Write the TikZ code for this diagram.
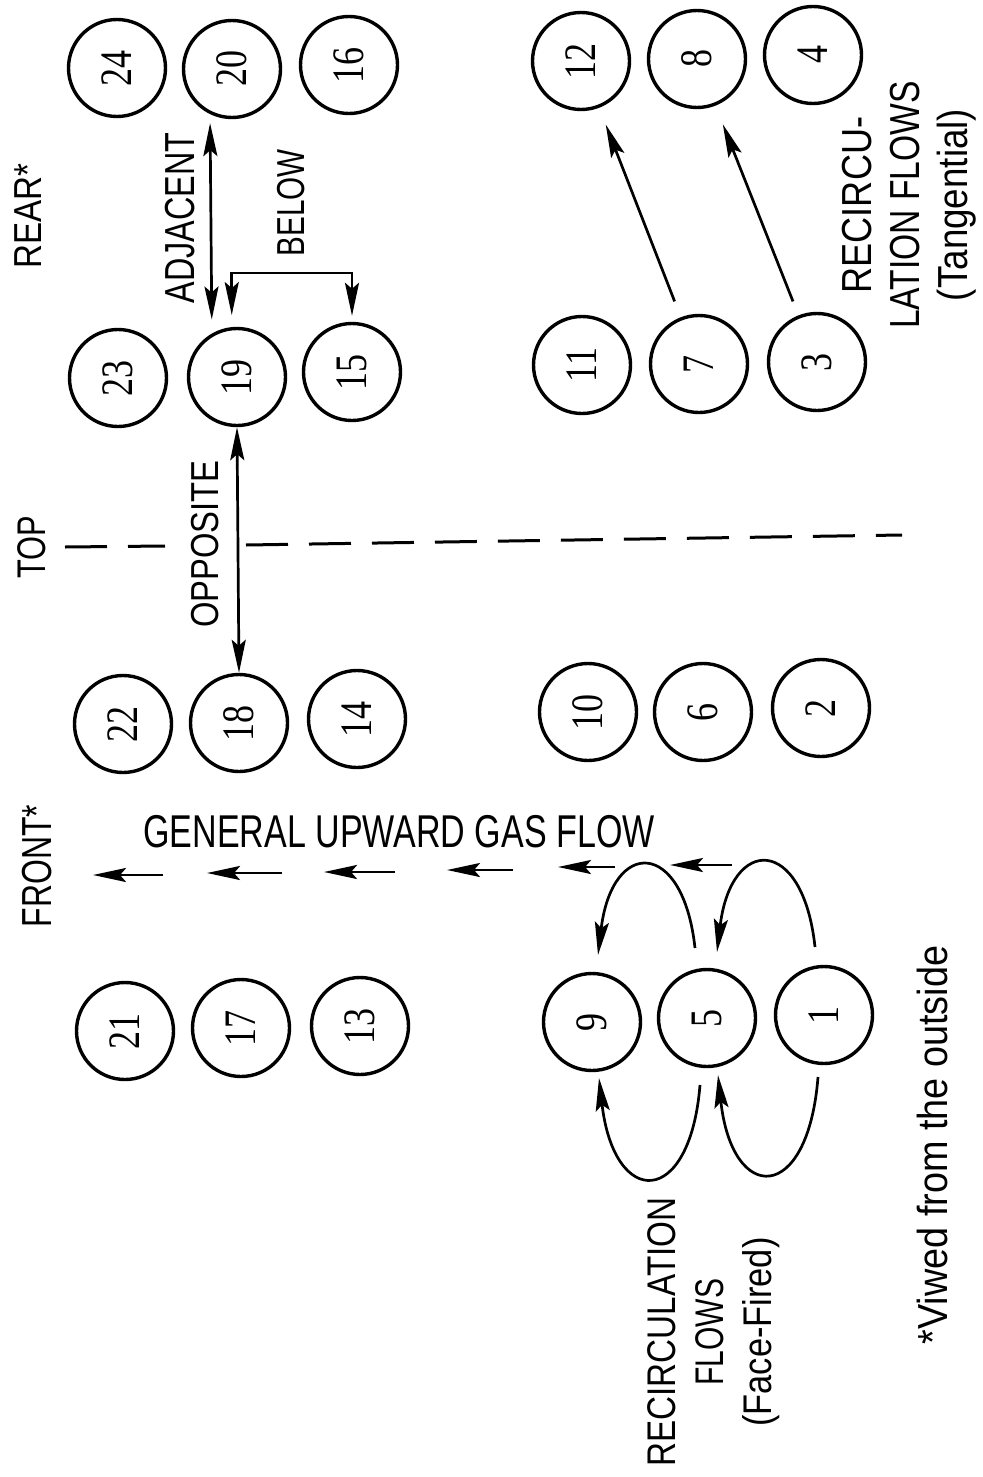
\documentclass[tikz,border=0pt]{standalone}
\usepackage{fontspec}
\usepackage{graphicx}
\setmainfont{Liberation Sans}
\newfontfamily\numfont{Liberation Serif}
\usetikzlibrary{arrows.meta}
\newcommand{\sx}[2]{\scalebox{#1}[1]{#2}}
\newcommand{\bn}[1]{\rotatebox{90}{\scalebox{0.8}[1]{#1}}}
\begin{document}
\begin{tikzpicture}[x=0.5pt,y=-0.5pt,
  burner/.style={circle,draw,line width=1.7pt,minimum size=48.5pt,inner sep=0pt,
    font=\numfont\fontsize{22.5}{22.5}\selectfont},
  lab/.style={inner sep=0pt,rotate=90,align=center},
  tip/.tip={Stealth[length=16.5pt,width=7pt,inset=3pt]},
  conn/.style={line width=1.35pt,-tip},
  dconn/.style={line width=1.35pt,tip-tip},
  topline/.style={line width=1.5pt,dash pattern=on 21pt off 10.5pt},
]
\useasboundingbox (0,0) rectangle (983,1477);

% burners
\node[burner] (n24) at (117,68) {\bn{24}};
\node[burner] (n20) at (232,69) {\bn{20}};
\node[burner] (n16) at (349,65) {\bn{16}};
\node[burner] (n12) at (581,61) {\bn{12}};
\node[burner] (n8)  at (697,59) {\bn{8}};
\node[burner] (n4)  at (813,55) {\bn{4}};

\node[burner] (n23) at (118,378) {\bn{23}};
\node[burner] (n19) at (237,377) {\bn{19}};
\node[burner] (n15) at (352,372) {\bn{15}};
\node[burner] (n11) at (582,365) {\bn{11}};
\node[burner] (n7)  at (699,364) {\bn{7}};
\node[burner] (n3)  at (817,362) {\bn{3}};

\node[burner] (n22) at (123,724) {\bn{22}};
\node[burner] (n18) at (239,723) {\bn{18}};
\node[burner] (n14) at (357,719) {\bn{14}};
\node[burner] (n10) at (588,712) {\bn{10}};
\node[burner] (n6)  at (703,712) {\bn{6}};
\node[burner] (n2)  at (821,708) {\bn{2}};

\node[burner] (n21) at (125,1031) {\bn{21}};
\node[burner] (n17) at (241,1028) {\bn{17}};
\node[burner] (n13) at (360,1026) {\bn{13}};
\node[burner] (n9)  at (592,1022) {\bn{9}};
\node[burner] (n5)  at (707,1018) {\bn{5}};
\node[burner] (n1)  at (824,1015) {\bn{1}};

% TOP dashed line (interrupted by the OPPOSITE label and arrow)
\coordinate (tl) at (65,547);
\coordinate (tm1) at (165,546);
\coordinate (tm2) at (246,545);
\coordinate (tr) at (902,535);
\draw[topline] (tl) -- (tm1);
\draw[topline] (tm2) -- (tr);

% labels
\node[lab,font=\fontsize{19.5}{19.5}\selectfont] (rear) at (28,216) {\sx{0.85}{REAR*}};
\node[lab,font=\fontsize{20}{20}\selectfont] (top) at (32,547) {\sx{0.77}{TOP}};
\node[lab,font=\fontsize{21}{21}\selectfont] (front) at (37,866) {\sx{0.76}{FRONT*}};
\node[lab,font=\fontsize{21}{21}\selectfont] (adj) at (180,218) {\sx{0.77}{ADJACENT}};
\node[lab,font=\fontsize{19.5}{19.5}\selectfont] (below) at (291,203) {\sx{0.76}{BELOW}};
\node[lab,font=\fontsize{19.5}{19.5}\selectfont] (opp) at (205,544) {\sx{0.84}{OPPOSITE}};
\node[inner sep=0pt,font=\fontsize{23}{23}\selectfont] (gen) at (399,832) {\sx{0.74}{GENERAL UPWARD GAS FLOW}};
\node[lab,font=\fontsize{21}{24}\selectfont] (tang) at (909,205)
  {\sx{0.86}{RECIRCU-}\\\sx{0.80}{LATION FLOWS}\\\sx{0.875}{(Tangential)}};
\node[lab,font=\fontsize{20}{24}\selectfont] (face) at (714,1332)
  {\sx{0.83}{RECIRCULATION}\\\sx{0.75}{FLOWS}\\\sx{0.86}{(Face-Fired)}};
\node[lab,font=\fontsize{21}{21}\selectfont] (note) at (932,1145) {\sx{0.9}{*Viwed from the outside}};

% relation arrows
\draw[dconn,shorten <=4.5pt,shorten >=7pt] (n20.244) -- (n19.120);
\draw[dconn] (n19.south) -- (n18.north);
\coordinate (bel) at (291,273);
\draw[dconn,shorten <=6pt,shorten >=3pt] (n19.96) |- (bel) -| (n15.north);

% tangential recirculation
\draw[conn,shorten <=8.5pt,shorten >=9pt] (n7) -- (n12);
\draw[conn,shorten <=7.5pt,shorten >=10pt] (n3) -- (n8);

% general upward gas flow arrows
\coordinate (g1s) at (163,875); \coordinate (g1e) at (93,875);
\coordinate (g2s) at (282,873); \coordinate (g2e) at (207,873);
\coordinate (g3s) at (395,872); \coordinate (g3e) at (324,872);
\coordinate (g4s) at (513,870); \coordinate (g4e) at (447,870);
\coordinate (g5s) at (615,867); \coordinate (g5e) at (558,867);
\coordinate (g6s) at (732,865); \coordinate (g6e) at (670,865);
\foreach \i in {1,...,6} \draw[conn] (g\i s) -- (g\i e);

% face-fired recirculation
\coordinate (a5s) at (695,948); \coordinate (a9e) at (598,955);
\coordinate (b1s) at (815,947); \coordinate (b5e) at (717,952);
\coordinate (c5s) at (700,1085); \coordinate (c9e) at (599,1078);
\coordinate (d1s) at (818,1077); \coordinate (d5e) at (718,1075);
\draw[conn] (a5s) .. controls (683,838) and (612,838) .. (a9e);
\draw[conn] (b1s) .. controls (803,835) and (731,835) .. (b5e);
\draw[conn] (c5s) .. controls (690,1209) and (614,1209) .. (c9e);
\draw[conn] (d1s) .. controls (808,1205) and (732,1205) .. (d5e);
\end{tikzpicture}
\end{document}
